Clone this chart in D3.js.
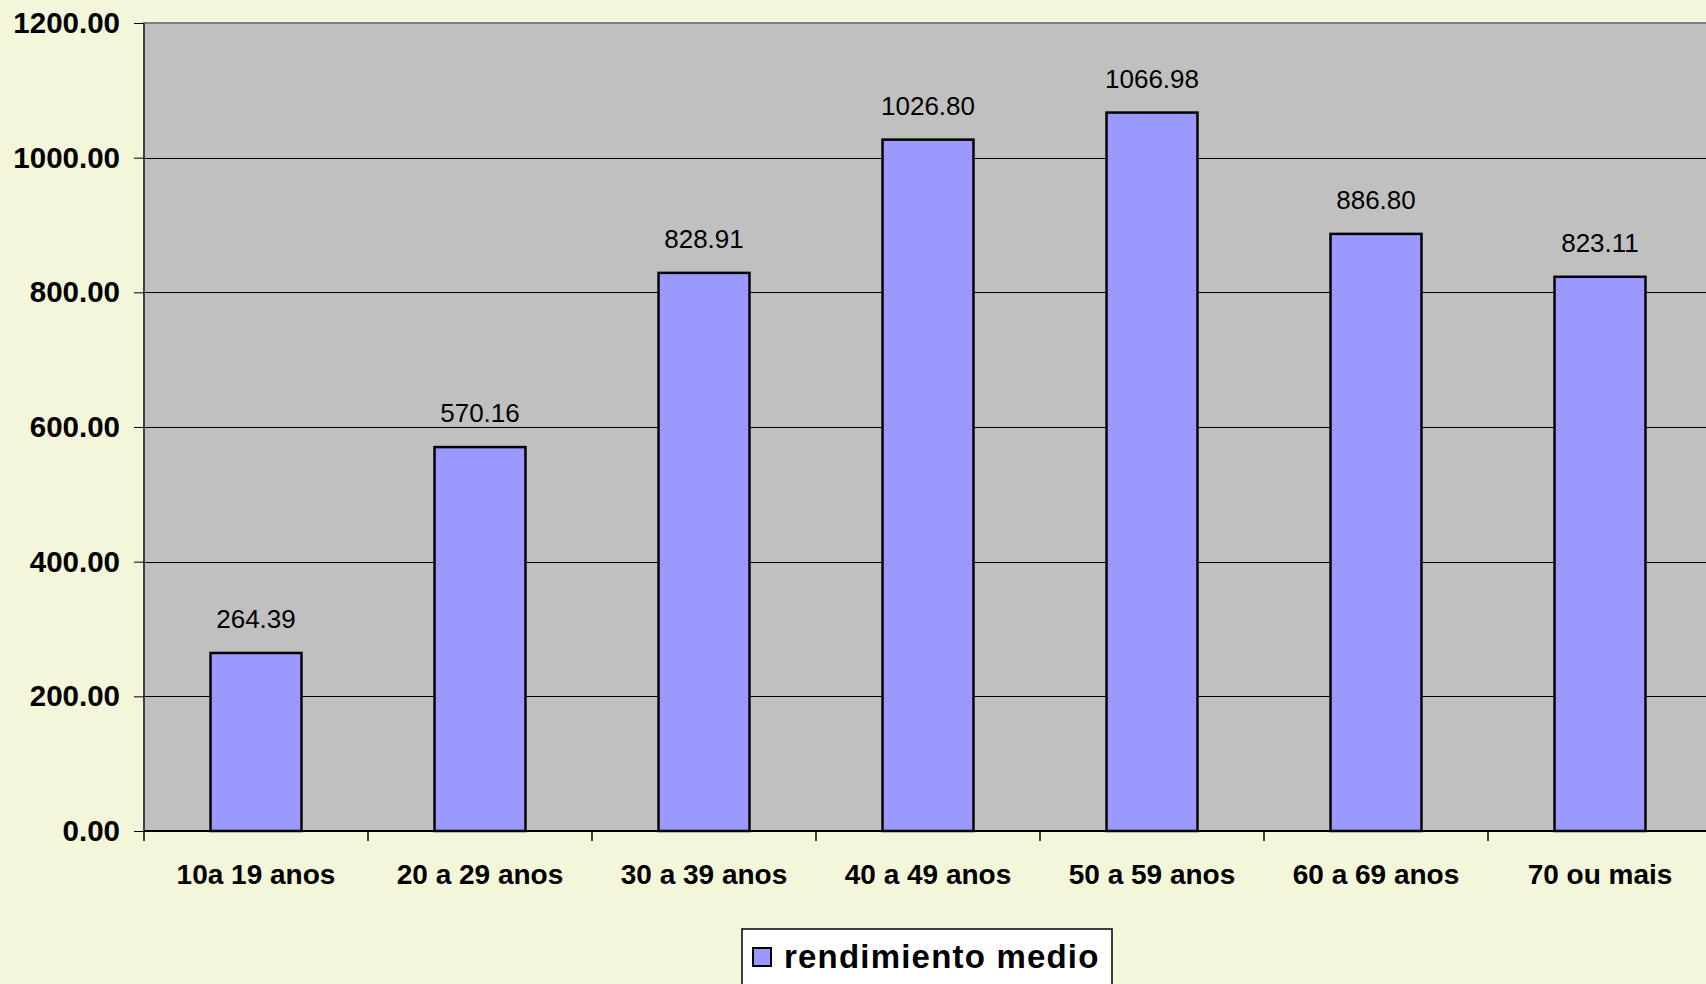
<!DOCTYPE html>
<html>
<head>
<meta charset="utf-8">
<script src="https://cdn.jsdelivr.net/npm/d3@7"></script>
<style>
  body { margin: 0; background: #f3f6d8; overflow: hidden; }
  svg { display: block; }
</style>
</head>
<body>
<script>
// data
const categories = ['10a 19 anos', '20 a 29 anos', '30 a 39 anos', '40 a 49 anos', '50 a 59 anos', '60 a 69 anos', '70 ou mais'];
const values = [264.39, 570.16, 828.91, 1026.80, 1066.98, 886.80, 823.11];
const yTicks = [0, 200, 400, 600, 800, 1000, 1200];
const seriesName = 'rendimiento medio';

const W = 1706, H = 984;
const margin = { top: 23, left: 144 };
const plotW = 1568, plotH = 808;

const svg = d3.select('body').append('svg')
    .attr('width', W)
    .attr('height', H)
    .style('font-family', '"Liberation Sans", Arial, sans-serif');

svg.append('rect').attr('width', W).attr('height', H).attr('fill', '#f3f6d8');

const g = svg.append('g').attr('transform', `translate(${margin.left}, ${margin.top})`);

const x = d3.scaleBand()
    .domain(categories)
    .range([0, plotW])
    .paddingInner(0.594)
    .paddingOuter(0.297);

const y = d3.scaleLinear()
    .domain([0, 1200])
    .range([plotH, 0]);

// plot area
g.append('rect')
    .attr('width', plotW)
    .attr('height', plotH)
    .attr('fill', '#c0c0c0')
    .attr('stroke', '#808080')
    .attr('stroke-width', 2);

// gridlines
g.selectAll('.grid')
    .data(yTicks.filter(d => d > 0 && d < 1200))
    .enter().append('line')
    .attr('x1', 0).attr('x2', plotW)
    .attr('y1', d => Math.round(y(d)) + 0.5)
    .attr('y2', d => Math.round(y(d)) + 0.5)
    .attr('stroke', '#000')
    .attr('stroke-width', 1);

// y axis
const yAxis = g.append('g')
    .call(d3.axisLeft(y).tickValues(yTicks).tickFormat(d3.format('.2f')).tickSize(10).tickPadding(14));
yAxis.select('.domain').attr('stroke', '#404040').attr('stroke-width', 2).attr('d', `M0,0V${plotH}`);
yAxis.selectAll('text')
    .attr('font-size', 29.5)
    .attr('font-weight', 'bold')
    .attr('fill', '#000')
    .attr('font-family', '"Liberation Sans", Arial, sans-serif');

// x axis
const xAxis = g.append('g')
    .attr('transform', `translate(0, ${plotH})`)
    .call(d3.axisBottom(x).tickSize(0).tickPadding(33));
xAxis.select('.domain').attr('stroke', '#000').attr('stroke-width', 2).attr('d', `M0,0H${plotW}`);
xAxis.selectAll('text')
    .attr('font-size', 28)
    .attr('font-weight', 'bold')
    .attr('fill', '#000')
    .attr('font-family', '"Liberation Sans", Arial, sans-serif');

// category separators below the axis
g.selectAll('.xtick')
    .data(d3.range(categories.length + 1))
    .enter().append('line')
    .attr('x1', i => i * x.step()).attr('x2', i => i * x.step())
    .attr('y1', plotH).attr('y2', plotH + 10)
    .attr('stroke', '#000')
    .attr('stroke-width', 1.5);

// bars
g.selectAll('.bar')
    .data(values)
    .enter().append('rect')
    .attr('x', (d, i) => x(categories[i]))
    .attr('y', d => y(d))
    .attr('width', x.bandwidth())
    .attr('height', d => plotH - y(d))
    .attr('fill', '#9999ff')
    .attr('stroke', '#000')
    .attr('stroke-width', 2.5);

// value labels
g.selectAll('.lbl')
    .data(values)
    .enter().append('text')
    .attr('x', (d, i) => x(categories[i]) + x.bandwidth() / 2)
    .attr('y', d => y(d) - 25)
    .attr('text-anchor', 'middle')
    .attr('font-size', 26)
    .attr('fill', '#000')
    .text(d => d3.format('.2f')(d));

// legend
const legend = svg.append('g').attr('transform', 'translate(742, 929)');
legend.append('rect')
    .attr('width', 370).attr('height', 70)
    .attr('fill', '#fff')
    .attr('stroke', '#000')
    .attr('stroke-width', 1.5);
legend.append('rect')
    .attr('x', 11).attr('y', 19)
    .attr('width', 18).attr('height', 18)
    .attr('fill', '#9999ff')
    .attr('stroke', '#000')
    .attr('stroke-width', 2);
legend.append('text')
    .attr('x', 42).attr('y', 39)
    .attr('font-size', 33)
    .attr('font-weight', 'bold')
    .attr('letter-spacing', 1.2)
    .attr('fill', '#000')
    .text(seriesName);
</script>
</body>
</html>
